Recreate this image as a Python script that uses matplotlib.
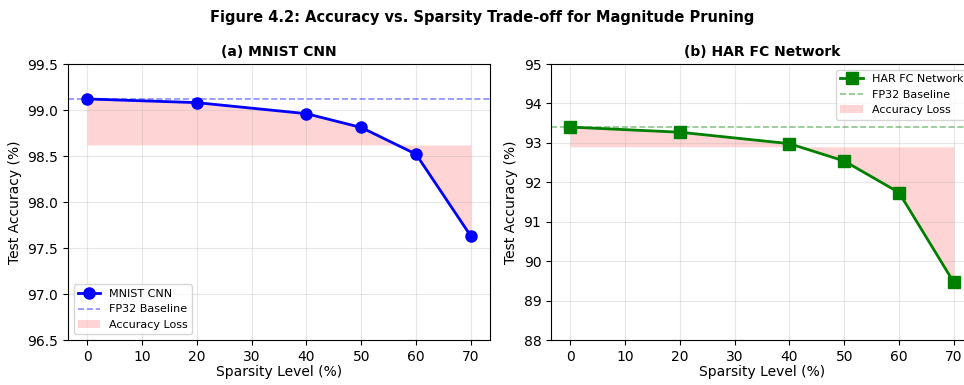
import matplotlib.pyplot as plt

sparsity = [0, 20, 40, 50, 60, 70]
mnist_acc = [99.12, 99.08, 98.96, 98.81, 98.52, 97.63]
har_acc = [93.40, 93.27, 92.98, 92.54, 91.74, 89.46]
mnist_base = 99.12
har_base = 93.40

fig = plt.figure(figsize=(9.64, 3.85), dpi=100)
ax1 = fig.add_axes([68 / 964, 45 / 385, 422 / 964, 276 / 385])
ax2 = fig.add_axes([551 / 964, 45 / 385, 422 / 964, 276 / 385])

panels = [
    (ax1, mnist_acc, mnist_base, 'blue', 'o', 'MNIST CNN', '(a) MNIST CNN', (96.5, 99.5), 'lower left'),
    (ax2, har_acc, har_base, 'green', 's', 'HAR FC Network', '(b) HAR FC Network', (88, 95), 'upper right'),
]

for ax, acc, base, col, mk, lab, title, ylim, loc in panels:
    ax.plot(sparsity, acc, color=col, marker=mk, linewidth=2, markersize=8, label=lab)
    ax.axhline(base, color=col, linestyle='--', alpha=0.45, linewidth=1.2, label='FP32 Baseline')
    ax.fill_between(sparsity, acc, base - 0.5, color='red', alpha=0.17, linewidth=0, label='Accuracy Loss')
    ax.set_ylim(*ylim)
    ax.set_xticks(range(0, 71, 10))
    ax.set_xlabel('Sparsity Level (%)', fontsize=10, labelpad=1)
    ax.set_ylabel('Test Accuracy (%)', fontsize=10)
    ax.set_title(title, fontsize=10, fontweight='bold')
    ax.tick_params(labelsize=10)
    ax.grid(True, alpha=0.3)
    ax.legend(loc=loc, fontsize=8)

fig.suptitle('Figure 4.2: Accuracy vs. Sparsity Trade-off for Magnitude Pruning',
             fontsize=10.5, fontweight='bold', y=0.975)

fig.savefig('out.png', dpi=100)
